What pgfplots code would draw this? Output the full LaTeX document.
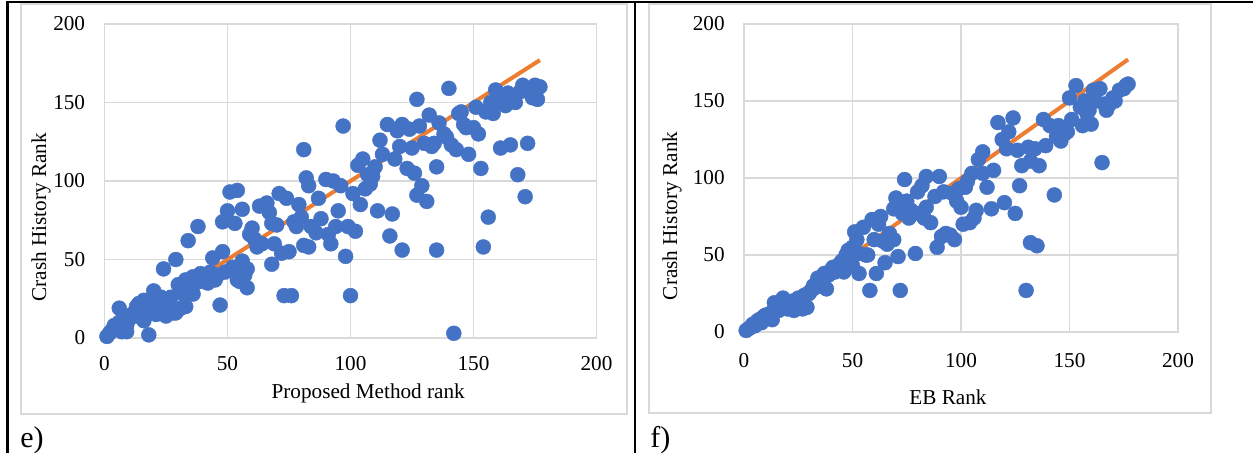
\documentclass[border=0pt]{standalone}
\usepackage{pgfplots}
\pgfplotsset{compat=1.18}
\usepackage{fontspec}
\setmainfont{Liberation Serif}
\definecolor{xlblue}{HTML}{4472C4}
\definecolor{xlorange}{HTML}{ED7D31}
\definecolor{gridgray}{HTML}{D9D9D9}
\pgfplotsset{
  panel/.style={
    anchor=south west, scale only axis,
    xmin=0, xmax=200, ymin=0, ymax=200,
    xtick={0,50,...,200}, ytick={0,50,...,200},
    grid=major, major grid style={draw=gridgray, line width=0.75bp},
    axis line style={draw=gridgray, line width=0.75bp},
    major tick length=0pt,
    tick label style={font=\fontsize{10.6bp}{12bp}\selectfont, text=black},
    /pgf/number format/assume math mode=true,
    yticklabel style={anchor=east, inner sep=0pt, xshift=-9.5bp},
    label style={font=\fontsize{10.6bp}{12bp}\selectfont, text=black},
    clip=false,
  },
  dots/.style={only marks, mark=*, mark size=3.75bp, color=xlblue, mark options={fill=xlblue, draw=xlblue, line width=0.2bp}},
  fit/.style={no marks, color=xlorange, line width=2bp},
}
\begin{document}
\begin{tikzpicture}
\useasboundingbox (0,0) rectangle (626.5bp,-226.5bp);
% table borders
\draw[black, line width=1bp] (3bp,-1bp) -- (626.5bp,-1bp);
\draw[black, line width=1.2bp] (3.75bp,-0.5bp) -- (3.75bp,-226.5bp);
\draw[black, line width=1bp] (317.5bp,-1bp) -- (317.5bp,-226.5bp);
% chart area boxes
\draw[gridgray, line width=0.75bp] (10.5bp,-2bp) rectangle (313.5bp,-207bp);
\draw[gridgray, line width=0.75bp] (324.5bp,-2bp) rectangle (605.5bp,-206.5bp);
\node[anchor=base west, inner sep=0pt, font=\fontsize{15bp}{17bp}\selectfont] at (10bp,-223.5bp) {e)};
\node[anchor=base west, inner sep=0pt, font=\fontsize{15bp}{17bp}\selectfont] at (325bp,-223.5bp) {f)};

\begin{axis}[panel,
  at={(52.25bp,-169bp)}, width=246bp, height=157bp,
  xticklabel style={anchor=north, inner sep=0pt, yshift=-9bp},
  xlabel={Proposed Method rank}, ylabel={Crash History Rank},
  xlabel style={at={(axis description cs:0.536,-0.175)}, anchor=center},
  ylabel style={at={(axis description cs:-0.129,0.385)}, anchor=center},
]
\addplot[fit] coordinates {(1,1) (177,177)};
\addplot[dots] coordinates {
(1,1)(2,3)(3,5)(4,8)(5,6)(6,19)(6,10)(7,4)(8,11)(9,4)(9,8)(10,12)(11,15)(12,14)(13,20)
(14,22)(15,13)(16,24)(16,11)(17,17)(18,2)(18,18)(19,22)(20,30)(21,15)(22,20)(23,26)(24,18)
(24,44)(25,14)(26,22)(27,26)(28,16)(29,50)(29,16)(30,34)(31,19)(32,28)(33,20)(33,37)(34,62)
(35,34)(36,39)(36,28)(37,35)(38,71)(39,41)(40,36)(41,39)(42,35)(43,42)(44,51)(45,37)(46,40)
(47,21)(48,55)(48,74)(49,42)(50,81)
(51,93)(52,45)(53,73)(54,94)(54,37)(55,36)(56,82)(56,49)(57,40)(58,44)(58,32)(59,66)(60,70)
(61,63)(62,58)(63,84)(64,60)(66,86)(67,80)(68,73)(68,47)(69,60)(70,72)(71,92)(72,54)(73,27)
(74,89)(75,55)(76,27)(77,74)(78,71)(79,85)(80,77)(81,59)(81,120)(82,102)(83,58)(83,97)(84,71)
(86,67)(87,89)(88,76)(90,101)(91,66)(92,60)(93,100)(94,71)(95,81)(96,97)(97,135)(98,52)(99,71)(100,27)
(101,92)(102,68)(103,110)(104,85)(105,114)(106,95)(107,104)(108,98)(109,103)(110,109)(111,81)
(112,126)(113,117)(115,136)(116,65)(117,79)(118,114)(119,132)(120,122)(121,56)(121,136)(123,108)
(124,133)(125,121)(126,105)(127,152)(127,91)(128,135)(129,97)(130,124)(131,87)(132,142)(133,122)
(134,124)(135,56)(135,109)(136,137)(138,130)(139,128)(140,159)(141,123)(142,3)(143,120)(144,143)
(145,144)(146,136)(147,134)(148,117)(150,134)(151,147)(152,130)(153,108)(154,58)(155,144)(156,77)
(157,150)(158,143)(159,158)(160,151)(161,121)(162,154)(163,148)(164,156)(165,123)(166,151)(167,150)
(168,104)(169,157)(170,161)(171,90)(172,124)(173,156)(174,153)(175,161)(176,152)(177,160)
};
\end{axis}

\begin{axis}[panel,
  at={(372bp,-166bp)}, width=217bp, height=154bp,
  xticklabel style={anchor=north, inner sep=0pt, yshift=-10.5bp},
  xlabel={EB Rank}, ylabel={Crash History Rank},
  xlabel style={at={(axis description cs:0.47,-0.211)}, anchor=center},
  ylabel style={at={(axis description cs:-0.166,0.377)}, anchor=center},
]
\addplot[fit] coordinates {(1,1) (177,177)};
\addplot[dots] coordinates {
(1,1)(2,2)(3,3)(4,5)(5,4)(6,7)(7,8)(8,6)(9,10)(10,11)(11,9)(12,12)(13,8)(14,19)(15,17)(16,14)
(17,20)(18,22)(19,16)(20,15)(21,18)(22,20)(23,14)(24,15)(25,22)(26,19)(27,15)(28,24)(29,16)(30,25)
(31,27)(32,30)(33,29)(34,35)(35,34)(36,32)(37,38)(38,28)(39,37)(40,40)(41,42)(42,39)(43,42)(44,44)
(45,46)(46,39)(47,50)(48,53)(49,48)(50,43)(50,55)(51,65)(52,60)(53,38)(53,51)(55,68)(56,50)(57,50)
(58,27)(59,73)(60,60)(61,38)(62,70)(63,75)(64,59)(65,45)(66,57)(67,64)(69,60)(69,80)(70,87)(71,49)
(72,27)(73,77)(74,99)(75,85)(76,74)(77,79)(79,51)(80,91)(81,77)(82,95)(83,74)(84,81)(84,101)(86,71)
(88,88)(89,55)(90,101)(91,62)(92,91)(93,64)(95,63)(96,90)(97,60)(98,85)(99,93)(100,81)(101,70)
(102,94)(103,98)(104,71)(105,103)(106,74)(107,79)(108,112)(110,117)(110,103)(112,94)(114,80)
(115,105)(117,136)(119,125)(120,84)(121,119)(122,130)(124,139)(125,77)(126,118)(127,95)(128,108)
(130,27)(131,120)(132,58)(132,111)(134,119)(135,56)(136,108)(138,138)(139,121)(141,134)(143,89)
(144,127)(145,134)(146,124)(148,129)(149,130)(150,152)(151,138)(153,160)(155,146)(156,134)(157,150)
(158,142)(159,144)(160,135)(161,157)(162,150)(164,158)(165,110)(166,148)(167,144)(168,147)(170,152)
(171,150)(173,157)(175,158)(176,160)(177,161)
};
\end{axis}
\end{tikzpicture}
\end{document}
